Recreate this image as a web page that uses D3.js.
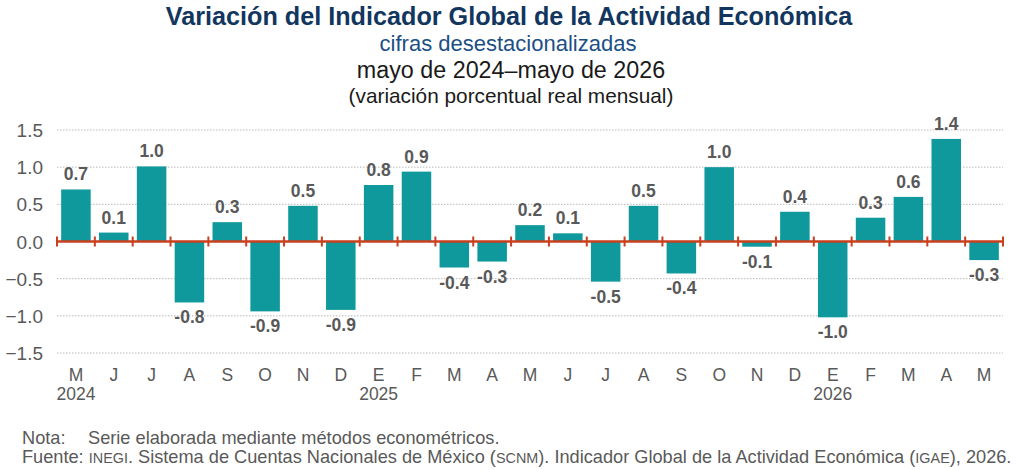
<!DOCTYPE html>
<html><head><meta charset="utf-8">
<script src="https://cdn.jsdelivr.net/npm/d3@7"></script>
<style>body{margin:0;background:#fff}svg{display:block;font-family:"Liberation Sans",Arial,sans-serif}</style>
</head><body><svg id="c" width="1024" height="470"></svg>
<script>
const months = ["M","J","J","A","S","O","N","D","E","F","M","A","M","J","J","A","S","O","N","D","E","F","M","A","M"];
const years = ["2024","","","","","","","","2025","","","","","","","","","","","","2026","","","",""];
const values = [0.7,0.12,1.01,-0.82,0.26,-0.94,0.48,-0.92,0.76,0.94,-0.35,-0.27,0.22,0.11,-0.54,0.48,-0.43,1.0,-0.07,0.40,-1.02,0.32,0.60,1.38,-0.25];
const labels = ["0.7","0.1","1.0","-0.8","0.3","-0.9","0.5","-0.9","0.8","0.9","-0.4","-0.3","0.2","0.1","-0.5","0.5","-0.4","1.0","-0.1","0.4","-1.0","0.3","0.6","1.4","-0.3"];
const yTicks = [-1.5,-1.0,-0.5,0.0,0.5,1.0,1.5];

const svg = d3.select("#c");
const idx = d3.range(values.length);
const x = d3.scaleBand().domain(idx).range([57,1003]).paddingInner(0.22).paddingOuter(0.11);
const y = d3.scaleLinear().domain([-1.5,1.5]).range([353,130]);
const grey = "#595959";

// titles
const tg = svg.append("g").attr("text-anchor","middle");
tg.append("text").attr("x",509).attr("y",25).attr("font-size",25.2).attr("font-weight","bold").attr("fill","#12365e").text("Variación del Indicador Global de la Actividad Económica");
tg.append("text").attr("x",508).attr("y",51).attr("font-size",22).attr("fill","#1c4f86").text("cifras desestacionalizadas");
tg.append("text").attr("x",511).attr("y",78).attr("font-size",23.3).attr("fill","#1a1a1a").text("mayo de 2024–mayo de 2026");
tg.append("text").attr("x",511).attr("y",103).attr("font-size",20.8).attr("fill","#1a1a1a").text("(variación porcentual real mensual)");

// grid
svg.append("g").selectAll("line").data(yTicks.filter(d=>d!==0)).join("line")
  .attr("x1",57).attr("x2",1003).attr("y1",d=>y(d)).attr("y2",d=>y(d))
  .attr("stroke","#b8b8b8").attr("stroke-width",1).attr("stroke-dasharray","1.5,1.5");

// y axis
const ya = svg.append("g").attr("transform","translate(43,0)")
  .call(d3.axisLeft(y).tickValues(yTicks).tickFormat(d3.format(".1f")).tickSize(0).tickPadding(0));
ya.select(".domain").remove();
ya.selectAll("text").attr("font-size",19).attr("fill",grey).attr("font-family","Liberation Sans, Arial, sans-serif").attr("dy","0.35em");

// bars
svg.append("g").selectAll("rect").data(idx).join("rect")
  .attr("x",i=>x(i)).attr("width",x.bandwidth())
  .attr("y",i=>y(Math.max(0,values[i]))).attr("height",i=>Math.abs(y(values[i])-y(0)))
  .attr("fill","#0f999c");

// zero line
const bounds = d3.range(values.length+1).map(i=>57 + i*(946/values.length));
svg.append("line").attr("x1",57).attr("x2",1003).attr("y1",y(0)).attr("y2",y(0)).attr("stroke","#c8401e").attr("stroke-width",2.5);
svg.append("g").selectAll("line").data(bounds).join("line")
  .attr("x1",d=>d).attr("x2",d=>d).attr("y1",y(0)-5).attr("y2",y(0)+5).attr("stroke","#c8401e").attr("stroke-width",2);

// value labels
svg.append("g").selectAll("text").data(idx).join("text")
  .attr("x",i=>x(i)+x.bandwidth()/2)
  .attr("y",i=>values[i]>=0 ? y(values[i])-9 : y(values[i])+21)
  .attr("text-anchor","middle").attr("font-size",17.5).attr("font-weight","bold").attr("fill",grey)
  .text(i=>labels[i]);

// x axis labels
const xa = svg.append("g").attr("transform","translate(0,353)")
  .call(d3.axisBottom(x).tickFormat(i=>months[i]).tickSize(0).tickPadding(16));
xa.select(".domain").remove();
xa.selectAll("text").attr("font-size",17.5).attr("fill",grey).attr("font-family","Liberation Sans, Arial, sans-serif");
svg.append("g").selectAll("text").data(idx.filter(i=>years[i])).join("text")
  .attr("x",i=>x(i)+x.bandwidth()/2).attr("y",400).attr("text-anchor","middle")
  .attr("font-size",17.5).attr("fill",grey).text(i=>years[i]);

// footer
const f = svg.append("g").attr("font-size",18.2).attr("fill",grey);
const n = f.append("text").attr("x",22).attr("y",444);
n.append("tspan").text("Nota:");
n.append("tspan").attr("x",88).text("Serie elaborada mediante métodos econométricos.");
const s = f.append("text").attr("x",22).attr("y",463);
s.append("tspan").text("Fuente: ");
s.append("tspan").attr("font-size",14.4).text("INEGI");
s.append("tspan").text(". Sistema de Cuentas Nacionales de México (");
s.append("tspan").attr("font-size",14.4).text("SCNM");
s.append("tspan").text("). Indicador Global de la Actividad Económica (");
s.append("tspan").attr("font-size",14.4).text("IGAE");
s.append("tspan").text("), 2026.");
</script></body></html>
